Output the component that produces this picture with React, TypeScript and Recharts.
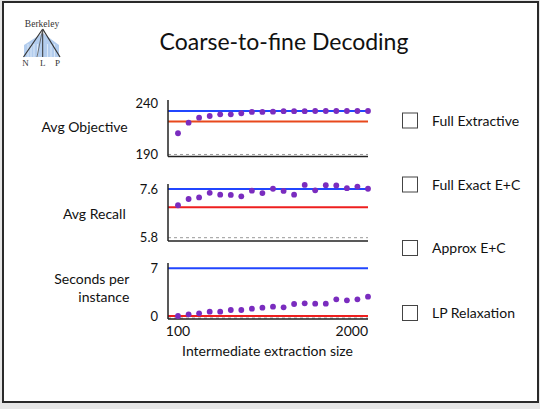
import React from 'react';
import { ComposedChart, Line, XAxis, YAxis, ReferenceLine } from 'recharts';

// intermediate extraction sizes (x)
const sizes = [100, 206, 311, 417, 522, 628, 733, 839, 944, 1050, 1156, 1261, 1367, 1472, 1578, 1683, 1789, 1894, 2000];

// Approx E+C (coarse-to-fine) points
const approxObjective = [210.8, 221.2, 226.1, 227.7, 229.4, 229.4, 230.4, 231.7, 231.7, 232.0, 232.4, 232.4, 232.4, 232.6, 232.6, 232.6, 232.6, 232.6, 232.6];
const approxRecall = [7.0, 7.23, 7.29, 7.46, 7.39, 7.38, 7.33, 7.54, 7.45, 7.61, 7.53, 7.39, 7.75, 7.55, 7.74, 7.73, 7.63, 7.69, 7.61];
const approxSeconds = [0.0, 0.24, 0.39, 0.63, 0.63, 0.88, 0.88, 1.07, 1.22, 1.37, 1.27, 1.76, 1.86, 1.81, 1.81, 2.45, 2.3, 2.45, 2.84];

// constant reference systems: [objective, recall, seconds]
const fullExactEC = [232.6, 7.6, 7];
const fullExtractive = [222.2, 6.93, 0];
const baseline = [190, 5.8, -0.3];

const yTicks = [[190, 240], [5.8, 7.6], [0, 7]];
const yDomains = [[188, 243.4], [5.678, 7.785], [-0.44, 7.78]];
const xTicks = [100, 2000];

const legendItems = ['Full Extractive', 'Full Exact E+C', 'Approx E+C', 'LP Relaxation'];

const rows = sizes.map((size, i) => ({
  size,
  objective: approxObjective[i],
  recall: approxRecall[i],
  seconds: approxSeconds[i],
}));

const FONT = "Lato, 'Open Sans', sans-serif";
const BLUE = '#2146ff';
const REDS = ['#e8481c', '#ee1f1f', '#ee1f1f'];
const PURPLE = '#7a2cbf';
const X_AXIS_H = 30;

function SizeTick(props: any) {
  const { x, y, payload } = props;
  const last = payload.value === 2000;
  return (
    <text x={x} y={y + 17} textAnchor={last ? 'end' : 'middle'} fill="#111" fontSize={14} fontFamily={FONT}>
      {payload.value}
    </text>
  );
}

interface PanelProps {
  idx: number;
  top: number;
  bottom: number;
  dataKey: string;
  showX?: boolean;
}

function Panel({ idx, top, bottom, dataKey, showX }: PanelProps) {
  return (
    <div style={{ position: 'absolute', left: 0, top: 0 }}>
      <ComposedChart
        width={540}
        height={409}
        data={rows}
        margin={{ top, right: 172, bottom: 409 - bottom - X_AXIS_H, left: 128 }}
      >
        <XAxis
          type="number"
          dataKey="size"
          domain={[0, 2000]}
          ticks={xTicks}
          tick={showX ? <SizeTick /> : false}
          tickLine={false}
          tickSize={0}
          tickMargin={0}
          height={X_AXIS_H}
          interval={0}
          stroke="#222"
          strokeWidth={1.5}
        />
        <YAxis
          type="number"
          domain={yDomains[idx]}
          ticks={yTicks[idx]}
          interval={0}
          width={40}
          tickLine={false}
          tickSize={0}
          tickMargin={10}
          tick={{ fill: '#111', fontSize: 13, fontFamily: FONT }}
          stroke="#222"
          strokeWidth={1.5}
        />
        <ReferenceLine y={baseline[idx]} stroke="#999" strokeDasharray="3 3" strokeWidth={1} />
        <ReferenceLine y={fullExtractive[idx]} stroke={REDS[idx]} strokeWidth={2} />
        <ReferenceLine y={fullExactEC[idx]} stroke={BLUE} strokeWidth={2} />
        <Line
          dataKey={dataKey}
          stroke="none"
          dot={{ r: 2.9, fill: PURPLE, stroke: 'none' }}
          activeDot={false}
          isAnimationActive={false}
        />
      </ComposedChart>
    </div>
  );
}

function Logo() {
  return (
    <g>
      <text x={42} y={27} textAnchor="middle" fontSize={9.5} fontFamily="'Liberation Serif', serif" fill="#333">
        Berkeley
      </text>
      <polygon points="24,45 42.7,33 59,45 59,57 24,57" fill="#b3cdee" />
      {[28, 31, 34, 37.5, 47.5, 51, 54.5].map((x) => (
        <line key={x} x1={x} y1={44} x2={x} y2={57} stroke="#dbe8f7" strokeWidth={1} />
      ))}
      <line x1={42.7} y1={29} x2={23.5} y2={57} stroke="#333" strokeWidth={1.2} />
      <line x1={42.7} y1={29} x2={60} y2={57} stroke="#333" strokeWidth={1.2} />
      <line x1={42.7} y1={29} x2={42.7} y2={57} stroke="#333" strokeWidth={1} />
      <line x1={42.7} y1={29} x2={37} y2={57} stroke="#555" strokeWidth={0.8} />
      <text y={66} fontSize={9} fontFamily="'Liberation Serif', serif" fill="#333" textAnchor="middle">
        <tspan x={25.5}>N</tspan>
        <tspan x={42.7}>L</tspan>
        <tspan x={57.5}>P</tspan>
      </text>
    </g>
  );
}

export default function App() {
  return (
    <div style={{ position: 'absolute', left: 0, top: 0, width: 540, height: 409, background: '#e6e6e6' }}>
      <div
        style={{
          position: 'absolute',
          left: 2,
          top: 1,
          width: 537,
          height: 402,
          boxSizing: 'border-box',
          border: '2px solid #2a2a2a',
          background: '#fff',
        }}
      />
      <svg width={540} height={409} style={{ position: 'absolute', left: 0, top: 0 }}>
        <Logo />
        <text x={284} y={50} textAnchor="middle" fontSize={23} fontFamily={FONT} fill="#111">
          Coarse-to-fine Decoding
        </text>
        <g fontFamily={FONT} fontSize={14} fill="#111">
          <text x={127.7} y={131.7} textAnchor="end">Avg Objective</text>
          <text x={125.7} y={219} textAnchor="end">Avg Recall</text>
          <text x={129.3} y={284.3} textAnchor="end">Seconds per</text>
          <text x={129.3} y={302.3} textAnchor="end">instance</text>
          <text x={267.5} y={355.7} textAnchor="middle">Intermediate extraction size</text>
          {legendItems.map((label, i) => {
            const cy = [120.5, 184.5, 248, 313][i];
            return (
              <g key={label}>
                <rect x={402.5} y={cy - 7.5} width={15} height={15} fill="#fff" stroke="#444" strokeWidth={1} />
                <text x={432} y={cy + 5}>{label}</text>
              </g>
            );
          })}
        </g>
      </svg>
      <Panel idx={0} top={100} bottom={156.5} dataKey="objective" />
      <Panel idx={1} top={184} bottom={241} dataKey="recall" />
      <Panel idx={2} top={263} bottom={319} dataKey="seconds" showX />
    </div>
  );
}
